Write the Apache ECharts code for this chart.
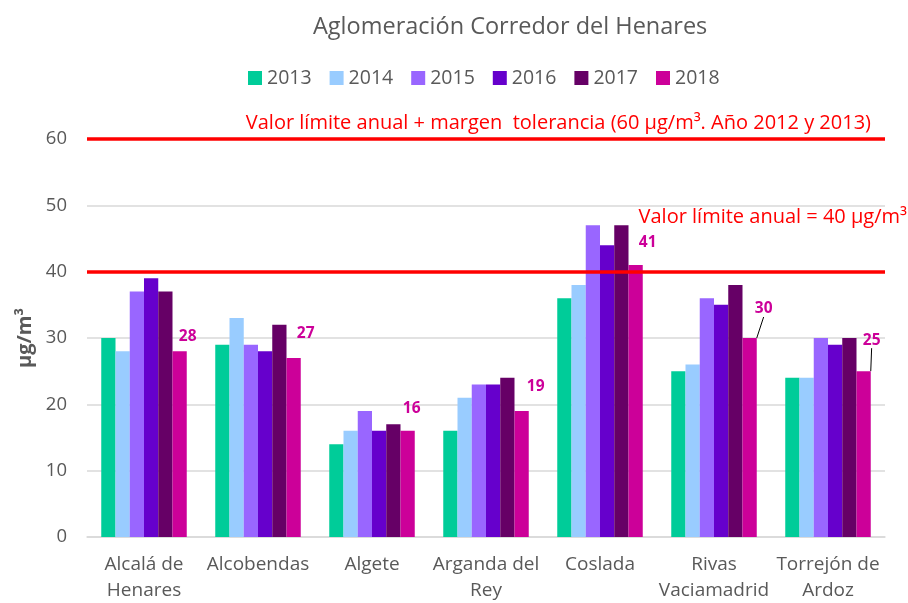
<!DOCTYPE html>
<html>
<head>
<meta charset="utf-8">
<script src="https://cdn.jsdelivr.net/npm/echarts@6/dist/echarts.min.js"></script>
<style>
  html, body { margin: 0; padding: 0; background: #fff; }
  #chart { width: 908px; height: 603px; }
</style>
</head>
<body>
<div id="chart"></div>
<script>
// datos
var categories = ['Alcalá de\nHenares', 'Alcobendas', 'Algete', 'Arganda del\nRey', 'Coslada', 'Rivas\nVaciamadrid', 'Torrejón de\nArdoz'];
var years = ['2013', '2014', '2015', '2016', '2017', '2018'];
var v2013 = [30, 29, 14, 16, 36, 25, 24];
var v2014 = [28, 33, 16, 21, 38, 26, 24];
var v2015 = [37, 29, 19, 23, 47, 36, 30];
var v2016 = [39, 28, 16, 23, 44, 35, 29];
var v2017 = [37, 32, 17, 24, 47, 38, 30];
var v2018 = [28, 27, 16, 19, 41, 30, 25];
var yTicks = [0, 10, 20, 30, 40, 50, 60];
var limit60 = 60;
var limit40 = 40;

var colors = ['#00CC99', '#99CCFF', '#9966FF', '#6600CC', '#660066', '#CC0099'];
var values = [v2013, v2014, v2015, v2016, v2017, v2018];

// desplazamiento de las etiquetas de 2018 (como en el original)
var labelNudge = [[8, -2], [12, -11], [4, -9], [14, -11], [12, -9], [14, -16], [8, -18]];
var withLeader = [5, 6];

var font = 'Open Sans';
var chart = echarts.init(document.getElementById('chart'));

var series = years.map(function (y, i) {
  var s = {
    name: y,
    type: 'bar',
    barGap: '0%',
    barCategoryGap: '25%',
    itemStyle: { color: colors[i] },
    animation: false,
    data: values[i]
  };
  if (i === 5) {
    s.data = values[i].map(function (v, k) {
      return withLeader.indexOf(k) >= 0
        ? { value: v, labelLine: { show: true, lineStyle: { color: '#000', width: 1 } } }
        : v;
    });
    s.label = {
      show: true,
      position: 'top',
      color: '#CC0099',
      fontWeight: 'bold',
      fontSize: 15.5,
      fontFamily: font
    };
    s.labelLayout = function (p) {
      var n = labelNudge[p.dataIndex];
      return { dx: n[0], dy: n[1] };
    };
  }
  if (i === 0) {
    s.markLine = {
      silent: true,
      symbol: 'none',
      lineStyle: { color: '#FF0000', width: 3.5, type: 'solid' },
      data: [
        {
          yAxis: limit60,
          label: {
            position: 'insideEndTop',
            formatter: 'Valor límite anual + margen  tolerancia (60 µg/m³. Año 2012 y 2013)',
            color: '#FF0000', fontSize: 20, fontFamily: font, distance: [14, 6]
          }
        },
        {
          yAxis: limit40,
          label: {
            position: 'insideEndTop',
            formatter: 'Valor límite anual = 40 µg/m³',
            color: '#FF0000', fontSize: 20, fontFamily: font, distance: [-22, 44]
          }
        }
      ]
    };
  }
  return s;
});

chart.setOption({
  textStyle: { fontFamily: font },
  title: {
    text: 'Aglomeración Corredor del Henares',
    left: 308,
    top: 10,
    textStyle: { fontSize: 23.5, fontWeight: 'normal', color: '#595959', fontFamily: font }
  },
  legend: {
    data: years,
    top: 63,
    left: 243,
    icon: 'rect',
    itemWidth: 14,
    itemHeight: 14,
    itemGap: 18,
    textStyle: { fontSize: 19.5, color: '#595959', fontFamily: font }
  },
  grid: { left: 87, right: 23, top: 139, bottom: 66, containLabel: false, outerBoundsMode: 'none' },
  xAxis: {
    type: 'category',
    data: categories,
    axisTick: { show: false },
    axisLine: { lineStyle: { color: '#D9D9D9', width: 1.5 } },
    axisLabel: { fontSize: 19, color: '#595959', lineHeight: 26, margin: 15, interval: 0 }
  },
  yAxis: {
    type: 'value',
    min: yTicks[0],
    max: yTicks[yTicks.length - 1],
    interval: 10,
    name: 'µg/m³',
    nameLocation: 'middle',
    nameGap: 52,
    nameTextStyle: { fontSize: 20, fontWeight: 'bold', color: '#595959' },
    axisLine: { show: false },
    axisTick: { show: false },
    axisLabel: { fontSize: 18.5, color: '#595959', margin: 20 },
    splitLine: { lineStyle: { color: '#D9D9D9', width: 1.5 } }
  },
  series: series
});
</script>
</body>
</html>
